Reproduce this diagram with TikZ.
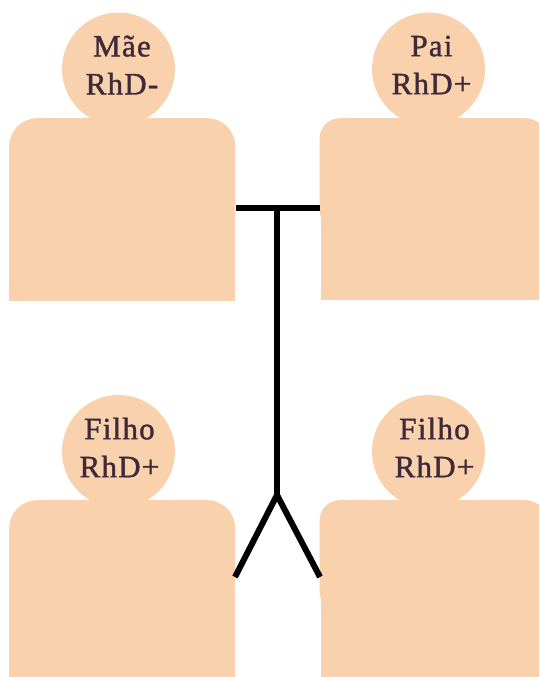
\documentclass[tikz,border=0pt]{standalone}
\usepackage{fontspec}
\newfontfamily\labelfont[FakeBold=1.3,LetterSpace=4]{Liberation Serif}
\definecolor{skin}{HTML}{F9D1AC}
\definecolor{ink}{HTML}{3F2A3A}
\tikzset{
  head/.style={circle,fill=skin,draw=none,inner sep=0pt,minimum size=113pt},
  persontext/.style={text=ink,align=center,inner sep=0pt,font=\labelfont\fontsize{31}{38}\selectfont},
  upper/.style={rectangle,rounded corners=#1,fill=skin,draw=none,inner sep=0pt,anchor=north west},
  lower/.style={rectangle,fill=skin,draw=none,inner sep=0pt,anchor=north west},
  link/.style={line width=6pt,draw=black,line cap=butt,line join=miter},
}
\begin{document}
\begin{tikzpicture}[x=1pt,y=-1pt]
\useasboundingbox (0,0) rectangle (539,677);
\clip (0,0) rectangle (539,677);
% Mae
\node[upper=28pt,minimum width=226pt,minimum height=112pt] (maeU) at (9,118) {};
\node[lower,minimum width=226pt,minimum height=125pt] (maeL) at (9,176) {};
\node[head] (mae) at (118.5,69) {};
\node[persontext] (maeT) at (122,65) {Mãe\\RhD-};
% Pai
\node[upper=20pt,minimum width=226pt,minimum height=112pt] (paiU) at (319.5,118) {};
\node[lower,minimum width=219pt,minimum height=124pt] (paiL) at (321,176) {};
\node[head] (pai) at (428.5,69) {};
\node[persontext] (paiT) at (431.5,65) {Pai\\RhD+};
% Filho 1
\node[upper=28pt,minimum width=226pt,minimum height=112pt] (f1U) at (9,500) {};
\node[lower,minimum width=226pt,minimum height=125pt] (f1L) at (9,558) {};
\node[head] (f1) at (118.5,451.5) {};
\node[persontext] (f1T) at (119.5,447.5) {Filho\\RhD+};
% Filho 2
\node[upper=20pt,minimum width=226pt,minimum height=112pt] (f2U) at (319.5,500) {};
\node[lower,minimum width=219pt,minimum height=124pt] (f2L) at (321,558) {};
\node[head] (f2) at (428.5,451.5) {};
\node[persontext] (f2T) at (434.5,447.5) {Filho\\RhD+};
% connectors
\coordinate (cross) at (277,208);
\coordinate (fork) at (277,495);
\coordinate (endA) at (235,577);
\coordinate (endB) at (320,577);
\draw[link] (maeU.east |- cross) ++(1,0) -- (paiU.west |- cross);
\draw[link] (cross) -- (fork);
\draw[link] (endA) -- (fork) -- (endB);
\end{tikzpicture}
\end{document}
